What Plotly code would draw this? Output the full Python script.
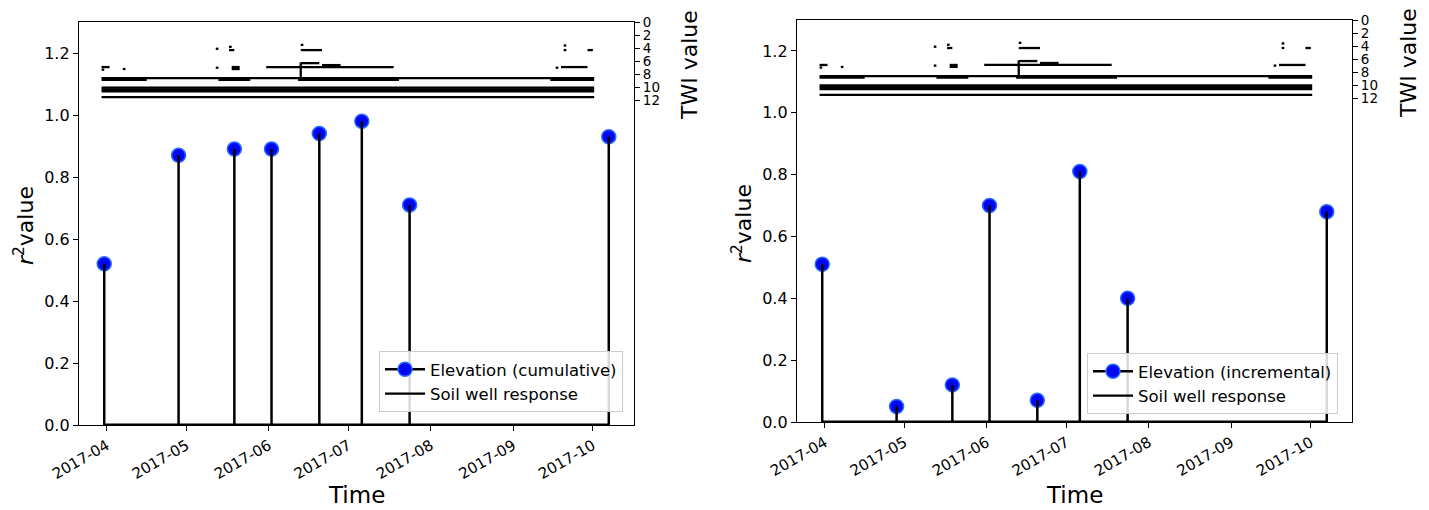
import plotly.graph_objects as go
import pandas as pd

# ---------------- data ----------------
stem_dates = ["2017-03-31", "2017-04-28", "2017-05-19", "2017-06-02",
              "2017-06-20", "2017-07-06", "2017-07-24", "2017-10-07"]
cum_r2 = [0.52, 0.87, 0.89, 0.89, 0.94, 0.98, 0.71, 0.93]
inc_r2 = [0.51, 0.05, 0.12, 0.70, 0.07, 0.81, 0.40, 0.68]

# soil well response periods (TWI value of the well, start, end)
seg_twi = [11.5, 10.05, 10.3, 10.6, 8.6,
           8.85, 8.85, 8.85, 8.85,
           6.9, 6.9, 6.3, 6.6, 4.3, 3.5,
           6.9, 7.3, 7.2, 7.0, 6.9, 7.2, 4.1, 3.8, 4.3,
           7.0, 3.6, 4.3, 4.3]
seg_start = ["2017-03-30", "2017-03-30", "2017-03-30", "2017-03-30", "2017-03-30",
             "2017-03-30", "2017-05-13", "2017-06-12", "2017-09-15",
             "2017-05-31", "2017-09-19", "2017-06-13", "2017-06-21", "2017-06-13", "2017-06-13",
             "2017-03-30", "2017-03-30", "2017-04-07", "2017-05-12", "2017-05-18", "2017-05-18",
             "2017-05-12", "2017-05-17", "2017-05-17",
             "2017-09-17", "2017-09-20", "2017-09-20", "2017-09-29"]
seg_end = ["2017-10-01 12:00", "2017-10-01 12:00", "2017-10-01 12:00", "2017-10-01 12:00", "2017-10-01 12:00",
           "2017-04-16", "2017-05-25", "2017-07-20", "2017-10-01 12:00",
           "2017-07-18", "2017-09-29", "2017-06-20", "2017-06-28", "2017-06-21", "2017-06-14",
           "2017-04-02", "2017-03-31", "2017-04-08", "2017-05-13", "2017-05-21", "2017-05-21",
           "2017-05-13", "2017-05-18", "2017-05-19",
           "2017-09-18", "2017-09-21", "2017-09-21", "2017-10-01"]
# short vertical step in one well's record
step_date = ["2017-06-13"]
step_twi_low = [6.2]
step_twi_high = [8.6]

twi_ticks = [0, 2, 4, 6, 8, 10, 12]
r2_ticks = [0.0, 0.2, 0.4, 0.6, 0.8, 1.0, 1.2]
month_ticks = pd.date_range("2017-04-01", "2017-10-01", freq="MS")
x_range = ["2017-03-21 12:00", "2017-10-16 12:00"]
twi_range = [61.7, 0]
r2_range = [0, 1.3]

labels = ["Elevation (cumulative)", "Elevation (incremental)"]
series = [cum_r2, inc_r2]

# ---------------- layout helpers ----------------
W, H = 1429, 510
OFF = 8          # page body margin offset
FONT = "DejaVu Sans"


def fx(p):
    return (p - OFF) / W


def fy(p):
    return 1 - (p - OFF) / H


panels = [
    dict(xd=(79, 634), yd=(22, 425), xa="x", ya="y", ya2="y2", leg="legend",
         legpos=(623, 412), twi_lab=(689, 65), ylab=(24, 226), xlab=(356, 495)),
    dict(xd=(797, 1352), yd=(20, 422), xa="x2", ya="y3", ya2="y4", leg="legend2",
         legpos=(1338, 414), twi_lab=(1408, 63), ylab=(742, 224), xlab=(1074, 495)),
]

fig = go.Figure()

# build line arrays for TWI responses
twi_x, twi_y = [], []
for s, e, t in zip(seg_start, seg_end, seg_twi):
    twi_x += [s, e, None]
    twi_y += [t, t, None]
for d, lo, hi in zip(step_date, step_twi_low, step_twi_high):
    twi_x += [d, d, None]
    twi_y += [lo, hi, None]

MARK = dict(size=14, color="#0008f0", line=dict(color="#2a6aff", width=1.5))

annotations = []
for i, p in enumerate(panels):
    vals = series[i]
    # legend-only stem symbol
    fig.add_trace(go.Scatter(
        x=[None], y=[None], mode="lines+markers", name=labels[i],
        line=dict(color="black", width=2.5), marker=MARK,
        xaxis=p["xa"], yaxis=p["ya"], legend=p["leg"], showlegend=True))
    # markers
    fig.add_trace(go.Scatter(
        x=stem_dates, y=vals, mode="markers", showlegend=False, marker=MARK,
        xaxis=p["xa"], yaxis=p["ya"], cliponaxis=False, hoverinfo="x+y"))
    # stems
    sx, sy = [], []
    for d, v in zip(stem_dates, vals):
        sx += [d, d, None]
        sy += [0, v, None]
    fig.add_trace(go.Scatter(
        x=sx, y=sy, mode="lines", showlegend=False,
        line=dict(color="black", width=2.5),
        xaxis=p["xa"], yaxis=p["ya"], hoverinfo="skip"))
    # baseline
    fig.add_trace(go.Scatter(
        x=[stem_dates[0], stem_dates[-1]], y=[0, 0], mode="lines", showlegend=False,
        line=dict(color="black", width=3),
        xaxis=p["xa"], yaxis=p["ya"], hoverinfo="skip"))
    # soil well responses on TWI axis
    fig.add_trace(go.Scatter(
        x=twi_x, y=twi_y, mode="lines", name="Soil well response",
        line=dict(color="black", width=2.3),
        xaxis=p["xa"], yaxis=p["ya2"], legend=p["leg"], showlegend=True))

    xkey = "xaxis" if p["xa"] == "x" else "xaxis2"
    ykey = "yaxis" if p["ya"] == "y" else "yaxis3"
    y2key = "yaxis2" if p["ya2"] == "y2" else "yaxis4"
    dom_x = [fx(p["xd"][0]), fx(p["xd"][1])]
    dom_y = [fy(p["yd"][1]), fy(p["yd"][0])]
    fig.update_layout(**{
        xkey: dict(domain=dom_x, anchor=p["ya"], type="date", range=x_range, automargin=False,
                   tickvals=list(month_ticks), ticktext=[d.strftime("%Y-%m") for d in month_ticks],
                   tickangle=-30, ticks="outside", ticklen=5, tickwidth=1.3, tickcolor="black",
                   showline=True, linecolor="black", linewidth=1.3, mirror=True,
                   showgrid=False, zeroline=False,
                   tickfont=dict(family=FONT, size=15, color="black")),
        ykey: dict(domain=dom_y, anchor=p["xa"], range=r2_range, tickvals=r2_ticks, automargin=False,
                   tickformat=".1f", ticks="outside", ticklen=5, tickwidth=1.3, tickcolor="black",
                   showline=True, linecolor="black", linewidth=1.3, mirror=True,
                   showgrid=False, zeroline=False,
                   tickfont=dict(family=FONT, size=16, color="black")),
        y2key: dict(overlaying=p["ya"], anchor=p["xa"], side="right", range=twi_range, automargin=False,
                    tickvals=twi_ticks, ticks="outside", ticklen=5, tickwidth=1.3, tickcolor="black",
                    showline=True, linecolor="black", linewidth=1.3,
                    showgrid=False, zeroline=False,
                    tickfont=dict(family=FONT, size=13.5, color="black")),
        p["leg"]: dict(x=fx(p["legpos"][0]), y=fy(p["legpos"][1]), xanchor="right", yanchor="bottom",
                       bgcolor="rgba(255,255,255,0.85)", bordercolor="#cccccc", borderwidth=1,
                       font=dict(family=FONT, size=16.5, color="black"),
                       tracegroupgap=0, itemwidth=40),
    })
    annotations += [
        dict(text="TWI value", x=fx(p["twi_lab"][0]), y=fy(p["twi_lab"][1]), xref="paper", yref="paper",
             showarrow=False, textangle=-90, xanchor="center", yanchor="middle",
             font=dict(family=FONT, size=22, color="black")),
        dict(text="<i>r</i><sup>2</sup>value", x=fx(p["ylab"][0]), y=fy(p["ylab"][1]), xref="paper",
             yref="paper", showarrow=False, textangle=-90, xanchor="center", yanchor="middle",
             font=dict(family=FONT, size=22, color="black")),
        dict(text="Time", x=fx(p["xlab"][0]), y=fy(p["xlab"][1]), xref="paper", yref="paper",
             showarrow=False, xanchor="center", yanchor="middle",
             font=dict(family=FONT, size=23, color="black")),
    ]

fig.update_layout(width=W, height=H, margin=dict(l=0, r=0, t=0, b=0),
                  paper_bgcolor="white", plot_bgcolor="white",
                  font=dict(family=FONT, color="black"),
                  annotations=annotations)

fig.write_html("out.html")
